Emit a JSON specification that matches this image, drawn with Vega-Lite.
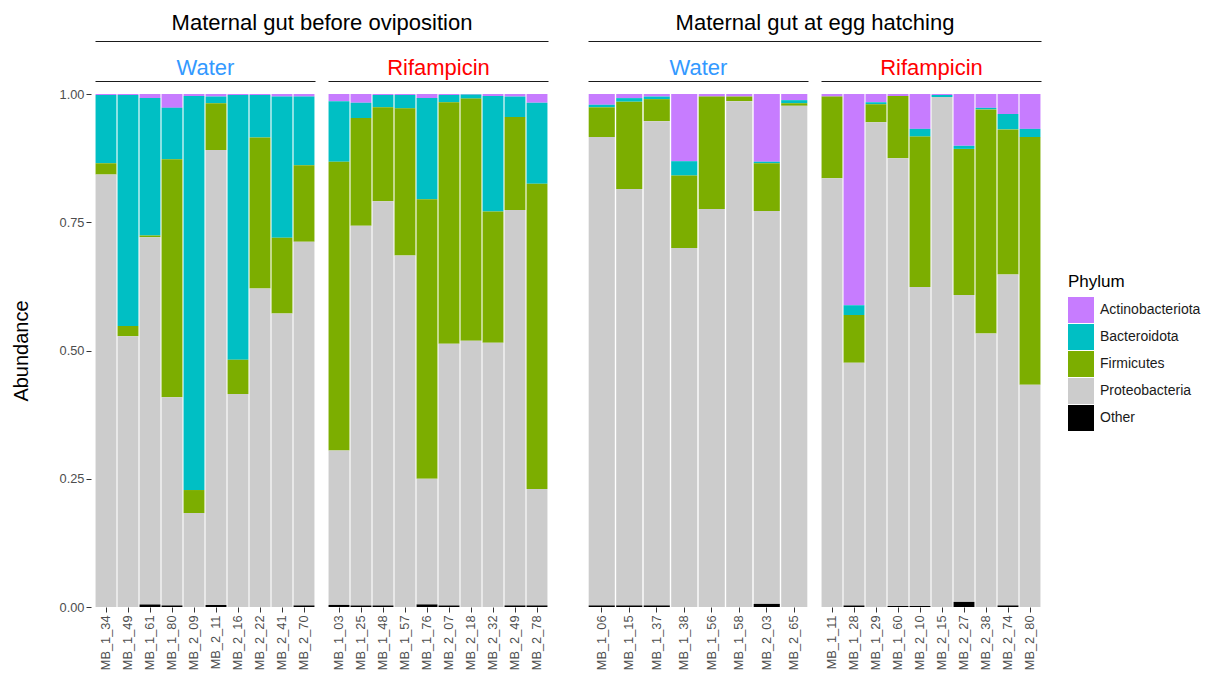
{
  "$schema": "https://vega.github.io/schema/vega-lite/v6.json",
  "background": "white",
  "padding": {"left": 11, "top": 11, "right": 0, "bottom": 0},
  "datasets": {
    "phyla": [
      {"Phylum": "Other", "rank": 1},
      {"Phylum": "Proteobacteria", "rank": 2},
      {"Phylum": "Firmicutes", "rank": 3},
      {"Phylum": "Bacteroidota", "rank": 4},
      {"Phylum": "Actinobacteriota", "rank": 5}
    ],
    "abund": [
      {"Sample": "MB_1_34", "Gut": "Before", "Treatment": "Water", "Phylum": "Actinobacteriota", "Abundance": 0.002},
      {"Sample": "MB_1_34", "Gut": "Before", "Treatment": "Water", "Phylum": "Bacteroidota", "Abundance": 0.133},
      {"Sample": "MB_1_34", "Gut": "Before", "Treatment": "Water", "Phylum": "Firmicutes", "Abundance": 0.022},
      {"Sample": "MB_1_34", "Gut": "Before", "Treatment": "Water", "Phylum": "Proteobacteria", "Abundance": 0.843},
      {"Sample": "MB_1_49", "Gut": "Before", "Treatment": "Water", "Phylum": "Actinobacteriota", "Abundance": 0.002},
      {"Sample": "MB_1_49", "Gut": "Before", "Treatment": "Water", "Phylum": "Bacteroidota", "Abundance": 0.450},
      {"Sample": "MB_1_49", "Gut": "Before", "Treatment": "Water", "Phylum": "Firmicutes", "Abundance": 0.020},
      {"Sample": "MB_1_49", "Gut": "Before", "Treatment": "Water", "Phylum": "Proteobacteria", "Abundance": 0.528},
      {"Sample": "MB_1_61", "Gut": "Before", "Treatment": "Water", "Phylum": "Actinobacteriota", "Abundance": 0.008},
      {"Sample": "MB_1_61", "Gut": "Before", "Treatment": "Water", "Phylum": "Bacteroidota", "Abundance": 0.268},
      {"Sample": "MB_1_61", "Gut": "Before", "Treatment": "Water", "Phylum": "Firmicutes", "Abundance": 0.003},
      {"Sample": "MB_1_61", "Gut": "Before", "Treatment": "Water", "Phylum": "Proteobacteria", "Abundance": 0.716},
      {"Sample": "MB_1_61", "Gut": "Before", "Treatment": "Water", "Phylum": "Other", "Abundance": 0.005},
      {"Sample": "MB_1_80", "Gut": "Before", "Treatment": "Water", "Phylum": "Actinobacteriota", "Abundance": 0.027},
      {"Sample": "MB_1_80", "Gut": "Before", "Treatment": "Water", "Phylum": "Bacteroidota", "Abundance": 0.100},
      {"Sample": "MB_1_80", "Gut": "Before", "Treatment": "Water", "Phylum": "Firmicutes", "Abundance": 0.464},
      {"Sample": "MB_1_80", "Gut": "Before", "Treatment": "Water", "Phylum": "Proteobacteria", "Abundance": 0.406},
      {"Sample": "MB_1_80", "Gut": "Before", "Treatment": "Water", "Phylum": "Other", "Abundance": 0.003},
      {"Sample": "MB_2_09", "Gut": "Before", "Treatment": "Water", "Phylum": "Actinobacteriota", "Abundance": 0.004},
      {"Sample": "MB_2_09", "Gut": "Before", "Treatment": "Water", "Phylum": "Bacteroidota", "Abundance": 0.768},
      {"Sample": "MB_2_09", "Gut": "Before", "Treatment": "Water", "Phylum": "Firmicutes", "Abundance": 0.045},
      {"Sample": "MB_2_09", "Gut": "Before", "Treatment": "Water", "Phylum": "Proteobacteria", "Abundance": 0.183},
      {"Sample": "MB_2_11", "Gut": "Before", "Treatment": "Water", "Phylum": "Actinobacteriota", "Abundance": 0.005},
      {"Sample": "MB_2_11", "Gut": "Before", "Treatment": "Water", "Phylum": "Bacteroidota", "Abundance": 0.013},
      {"Sample": "MB_2_11", "Gut": "Before", "Treatment": "Water", "Phylum": "Firmicutes", "Abundance": 0.091},
      {"Sample": "MB_2_11", "Gut": "Before", "Treatment": "Water", "Phylum": "Proteobacteria", "Abundance": 0.887},
      {"Sample": "MB_2_11", "Gut": "Before", "Treatment": "Water", "Phylum": "Other", "Abundance": 0.004},
      {"Sample": "MB_2_16", "Gut": "Before", "Treatment": "Water", "Phylum": "Actinobacteriota", "Abundance": 0.002},
      {"Sample": "MB_2_16", "Gut": "Before", "Treatment": "Water", "Phylum": "Bacteroidota", "Abundance": 0.516},
      {"Sample": "MB_2_16", "Gut": "Before", "Treatment": "Water", "Phylum": "Firmicutes", "Abundance": 0.067},
      {"Sample": "MB_2_16", "Gut": "Before", "Treatment": "Water", "Phylum": "Proteobacteria", "Abundance": 0.415},
      {"Sample": "MB_2_22", "Gut": "Before", "Treatment": "Water", "Phylum": "Actinobacteriota", "Abundance": 0.002},
      {"Sample": "MB_2_22", "Gut": "Before", "Treatment": "Water", "Phylum": "Bacteroidota", "Abundance": 0.083},
      {"Sample": "MB_2_22", "Gut": "Before", "Treatment": "Water", "Phylum": "Firmicutes", "Abundance": 0.294},
      {"Sample": "MB_2_22", "Gut": "Before", "Treatment": "Water", "Phylum": "Proteobacteria", "Abundance": 0.621},
      {"Sample": "MB_2_41", "Gut": "Before", "Treatment": "Water", "Phylum": "Actinobacteriota", "Abundance": 0.005},
      {"Sample": "MB_2_41", "Gut": "Before", "Treatment": "Water", "Phylum": "Bacteroidota", "Abundance": 0.275},
      {"Sample": "MB_2_41", "Gut": "Before", "Treatment": "Water", "Phylum": "Firmicutes", "Abundance": 0.148},
      {"Sample": "MB_2_41", "Gut": "Before", "Treatment": "Water", "Phylum": "Proteobacteria", "Abundance": 0.572},
      {"Sample": "MB_2_70", "Gut": "Before", "Treatment": "Water", "Phylum": "Actinobacteriota", "Abundance": 0.005},
      {"Sample": "MB_2_70", "Gut": "Before", "Treatment": "Water", "Phylum": "Bacteroidota", "Abundance": 0.134},
      {"Sample": "MB_2_70", "Gut": "Before", "Treatment": "Water", "Phylum": "Firmicutes", "Abundance": 0.149},
      {"Sample": "MB_2_70", "Gut": "Before", "Treatment": "Water", "Phylum": "Proteobacteria", "Abundance": 0.709},
      {"Sample": "MB_2_70", "Gut": "Before", "Treatment": "Water", "Phylum": "Other", "Abundance": 0.003},

      {"Sample": "MB_1_03", "Gut": "Before", "Treatment": "Rifampicin", "Phylum": "Actinobacteriota", "Abundance": 0.014},
      {"Sample": "MB_1_03", "Gut": "Before", "Treatment": "Rifampicin", "Phylum": "Bacteroidota", "Abundance": 0.118},
      {"Sample": "MB_1_03", "Gut": "Before", "Treatment": "Rifampicin", "Phylum": "Firmicutes", "Abundance": 0.563},
      {"Sample": "MB_1_03", "Gut": "Before", "Treatment": "Rifampicin", "Phylum": "Proteobacteria", "Abundance": 0.301},
      {"Sample": "MB_1_03", "Gut": "Before", "Treatment": "Rifampicin", "Phylum": "Other", "Abundance": 0.004},
      {"Sample": "MB_1_25", "Gut": "Before", "Treatment": "Rifampicin", "Phylum": "Actinobacteriota", "Abundance": 0.017},
      {"Sample": "MB_1_25", "Gut": "Before", "Treatment": "Rifampicin", "Phylum": "Bacteroidota", "Abundance": 0.030},
      {"Sample": "MB_1_25", "Gut": "Before", "Treatment": "Rifampicin", "Phylum": "Firmicutes", "Abundance": 0.210},
      {"Sample": "MB_1_25", "Gut": "Before", "Treatment": "Rifampicin", "Phylum": "Proteobacteria", "Abundance": 0.740},
      {"Sample": "MB_1_25", "Gut": "Before", "Treatment": "Rifampicin", "Phylum": "Other", "Abundance": 0.003},
      {"Sample": "MB_1_48", "Gut": "Before", "Treatment": "Rifampicin", "Phylum": "Actinobacteriota", "Abundance": 0.002},
      {"Sample": "MB_1_48", "Gut": "Before", "Treatment": "Rifampicin", "Phylum": "Bacteroidota", "Abundance": 0.024},
      {"Sample": "MB_1_48", "Gut": "Before", "Treatment": "Rifampicin", "Phylum": "Firmicutes", "Abundance": 0.183},
      {"Sample": "MB_1_48", "Gut": "Before", "Treatment": "Rifampicin", "Phylum": "Proteobacteria", "Abundance": 0.788},
      {"Sample": "MB_1_48", "Gut": "Before", "Treatment": "Rifampicin", "Phylum": "Other", "Abundance": 0.003},
      {"Sample": "MB_1_57", "Gut": "Before", "Treatment": "Rifampicin", "Phylum": "Actinobacteriota", "Abundance": 0.002},
      {"Sample": "MB_1_57", "Gut": "Before", "Treatment": "Rifampicin", "Phylum": "Bacteroidota", "Abundance": 0.026},
      {"Sample": "MB_1_57", "Gut": "Before", "Treatment": "Rifampicin", "Phylum": "Firmicutes", "Abundance": 0.287},
      {"Sample": "MB_1_57", "Gut": "Before", "Treatment": "Rifampicin", "Phylum": "Proteobacteria", "Abundance": 0.685},
      {"Sample": "MB_1_76", "Gut": "Before", "Treatment": "Rifampicin", "Phylum": "Actinobacteriota", "Abundance": 0.008},
      {"Sample": "MB_1_76", "Gut": "Before", "Treatment": "Rifampicin", "Phylum": "Bacteroidota", "Abundance": 0.197},
      {"Sample": "MB_1_76", "Gut": "Before", "Treatment": "Rifampicin", "Phylum": "Firmicutes", "Abundance": 0.545},
      {"Sample": "MB_1_76", "Gut": "Before", "Treatment": "Rifampicin", "Phylum": "Proteobacteria", "Abundance": 0.245},
      {"Sample": "MB_1_76", "Gut": "Before", "Treatment": "Rifampicin", "Phylum": "Other", "Abundance": 0.005},
      {"Sample": "MB_2_07", "Gut": "Before", "Treatment": "Rifampicin", "Phylum": "Actinobacteriota", "Abundance": 0.002},
      {"Sample": "MB_2_07", "Gut": "Before", "Treatment": "Rifampicin", "Phylum": "Bacteroidota", "Abundance": 0.014},
      {"Sample": "MB_2_07", "Gut": "Before", "Treatment": "Rifampicin", "Phylum": "Firmicutes", "Abundance": 0.471},
      {"Sample": "MB_2_07", "Gut": "Before", "Treatment": "Rifampicin", "Phylum": "Proteobacteria", "Abundance": 0.510},
      {"Sample": "MB_2_07", "Gut": "Before", "Treatment": "Rifampicin", "Phylum": "Other", "Abundance": 0.003},
      {"Sample": "MB_2_18", "Gut": "Before", "Treatment": "Rifampicin", "Phylum": "Actinobacteriota", "Abundance": 0.001},
      {"Sample": "MB_2_18", "Gut": "Before", "Treatment": "Rifampicin", "Phylum": "Bacteroidota", "Abundance": 0.008},
      {"Sample": "MB_2_18", "Gut": "Before", "Treatment": "Rifampicin", "Phylum": "Firmicutes", "Abundance": 0.472},
      {"Sample": "MB_2_18", "Gut": "Before", "Treatment": "Rifampicin", "Phylum": "Proteobacteria", "Abundance": 0.519},
      {"Sample": "MB_2_32", "Gut": "Before", "Treatment": "Rifampicin", "Phylum": "Actinobacteriota", "Abundance": 0.004},
      {"Sample": "MB_2_32", "Gut": "Before", "Treatment": "Rifampicin", "Phylum": "Bacteroidota", "Abundance": 0.225},
      {"Sample": "MB_2_32", "Gut": "Before", "Treatment": "Rifampicin", "Phylum": "Firmicutes", "Abundance": 0.256},
      {"Sample": "MB_2_32", "Gut": "Before", "Treatment": "Rifampicin", "Phylum": "Proteobacteria", "Abundance": 0.515},
      {"Sample": "MB_2_49", "Gut": "Before", "Treatment": "Rifampicin", "Phylum": "Actinobacteriota", "Abundance": 0.005},
      {"Sample": "MB_2_49", "Gut": "Before", "Treatment": "Rifampicin", "Phylum": "Bacteroidota", "Abundance": 0.040},
      {"Sample": "MB_2_49", "Gut": "Before", "Treatment": "Rifampicin", "Phylum": "Firmicutes", "Abundance": 0.181},
      {"Sample": "MB_2_49", "Gut": "Before", "Treatment": "Rifampicin", "Phylum": "Proteobacteria", "Abundance": 0.771},
      {"Sample": "MB_2_49", "Gut": "Before", "Treatment": "Rifampicin", "Phylum": "Other", "Abundance": 0.003},
      {"Sample": "MB_2_78", "Gut": "Before", "Treatment": "Rifampicin", "Phylum": "Actinobacteriota", "Abundance": 0.017},
      {"Sample": "MB_2_78", "Gut": "Before", "Treatment": "Rifampicin", "Phylum": "Bacteroidota", "Abundance": 0.158},
      {"Sample": "MB_2_78", "Gut": "Before", "Treatment": "Rifampicin", "Phylum": "Firmicutes", "Abundance": 0.595},
      {"Sample": "MB_2_78", "Gut": "Before", "Treatment": "Rifampicin", "Phylum": "Proteobacteria", "Abundance": 0.227},
      {"Sample": "MB_2_78", "Gut": "Before", "Treatment": "Rifampicin", "Phylum": "Other", "Abundance": 0.003},

      {"Sample": "MB_1_06", "Gut": "Hatching", "Treatment": "Water", "Phylum": "Actinobacteriota", "Abundance": 0.021},
      {"Sample": "MB_1_06", "Gut": "Hatching", "Treatment": "Water", "Phylum": "Bacteroidota", "Abundance": 0.005},
      {"Sample": "MB_1_06", "Gut": "Hatching", "Treatment": "Water", "Phylum": "Firmicutes", "Abundance": 0.058},
      {"Sample": "MB_1_06", "Gut": "Hatching", "Treatment": "Water", "Phylum": "Proteobacteria", "Abundance": 0.913},
      {"Sample": "MB_1_06", "Gut": "Hatching", "Treatment": "Water", "Phylum": "Other", "Abundance": 0.003},
      {"Sample": "MB_1_15", "Gut": "Hatching", "Treatment": "Water", "Phylum": "Actinobacteriota", "Abundance": 0.008},
      {"Sample": "MB_1_15", "Gut": "Hatching", "Treatment": "Water", "Phylum": "Bacteroidota", "Abundance": 0.007},
      {"Sample": "MB_1_15", "Gut": "Hatching", "Treatment": "Water", "Phylum": "Firmicutes", "Abundance": 0.170},
      {"Sample": "MB_1_15", "Gut": "Hatching", "Treatment": "Water", "Phylum": "Proteobacteria", "Abundance": 0.812},
      {"Sample": "MB_1_15", "Gut": "Hatching", "Treatment": "Water", "Phylum": "Other", "Abundance": 0.003},
      {"Sample": "MB_1_37", "Gut": "Hatching", "Treatment": "Water", "Phylum": "Actinobacteriota", "Abundance": 0.005},
      {"Sample": "MB_1_37", "Gut": "Hatching", "Treatment": "Water", "Phylum": "Bacteroidota", "Abundance": 0.005},
      {"Sample": "MB_1_37", "Gut": "Hatching", "Treatment": "Water", "Phylum": "Firmicutes", "Abundance": 0.043},
      {"Sample": "MB_1_37", "Gut": "Hatching", "Treatment": "Water", "Phylum": "Proteobacteria", "Abundance": 0.944},
      {"Sample": "MB_1_37", "Gut": "Hatching", "Treatment": "Water", "Phylum": "Other", "Abundance": 0.003},
      {"Sample": "MB_1_38", "Gut": "Hatching", "Treatment": "Water", "Phylum": "Actinobacteriota", "Abundance": 0.131},
      {"Sample": "MB_1_38", "Gut": "Hatching", "Treatment": "Water", "Phylum": "Bacteroidota", "Abundance": 0.028},
      {"Sample": "MB_1_38", "Gut": "Hatching", "Treatment": "Water", "Phylum": "Firmicutes", "Abundance": 0.141},
      {"Sample": "MB_1_38", "Gut": "Hatching", "Treatment": "Water", "Phylum": "Proteobacteria", "Abundance": 0.700},
      {"Sample": "MB_1_56", "Gut": "Hatching", "Treatment": "Water", "Phylum": "Actinobacteriota", "Abundance": 0.005},
      {"Sample": "MB_1_56", "Gut": "Hatching", "Treatment": "Water", "Phylum": "Firmicutes", "Abundance": 0.219},
      {"Sample": "MB_1_56", "Gut": "Hatching", "Treatment": "Water", "Phylum": "Proteobacteria", "Abundance": 0.776},
      {"Sample": "MB_1_58", "Gut": "Hatching", "Treatment": "Water", "Phylum": "Actinobacteriota", "Abundance": 0.005},
      {"Sample": "MB_1_58", "Gut": "Hatching", "Treatment": "Water", "Phylum": "Firmicutes", "Abundance": 0.009},
      {"Sample": "MB_1_58", "Gut": "Hatching", "Treatment": "Water", "Phylum": "Proteobacteria", "Abundance": 0.986},
      {"Sample": "MB_2_03", "Gut": "Hatching", "Treatment": "Water", "Phylum": "Actinobacteriota", "Abundance": 0.132},
      {"Sample": "MB_2_03", "Gut": "Hatching", "Treatment": "Water", "Phylum": "Bacteroidota", "Abundance": 0.003},
      {"Sample": "MB_2_03", "Gut": "Hatching", "Treatment": "Water", "Phylum": "Firmicutes", "Abundance": 0.093},
      {"Sample": "MB_2_03", "Gut": "Hatching", "Treatment": "Water", "Phylum": "Proteobacteria", "Abundance": 0.766},
      {"Sample": "MB_2_03", "Gut": "Hatching", "Treatment": "Water", "Phylum": "Other", "Abundance": 0.006},
      {"Sample": "MB_2_65", "Gut": "Hatching", "Treatment": "Water", "Phylum": "Actinobacteriota", "Abundance": 0.012},
      {"Sample": "MB_2_65", "Gut": "Hatching", "Treatment": "Water", "Phylum": "Bacteroidota", "Abundance": 0.006},
      {"Sample": "MB_2_65", "Gut": "Hatching", "Treatment": "Water", "Phylum": "Firmicutes", "Abundance": 0.005},
      {"Sample": "MB_2_65", "Gut": "Hatching", "Treatment": "Water", "Phylum": "Proteobacteria", "Abundance": 0.977},

      {"Sample": "MB_1_11", "Gut": "Hatching", "Treatment": "Rifampicin", "Phylum": "Actinobacteriota", "Abundance": 0.005},
      {"Sample": "MB_1_11", "Gut": "Hatching", "Treatment": "Rifampicin", "Phylum": "Firmicutes", "Abundance": 0.159},
      {"Sample": "MB_1_11", "Gut": "Hatching", "Treatment": "Rifampicin", "Phylum": "Proteobacteria", "Abundance": 0.836},
      {"Sample": "MB_1_28", "Gut": "Hatching", "Treatment": "Rifampicin", "Phylum": "Actinobacteriota", "Abundance": 0.412},
      {"Sample": "MB_1_28", "Gut": "Hatching", "Treatment": "Rifampicin", "Phylum": "Bacteroidota", "Abundance": 0.019},
      {"Sample": "MB_1_28", "Gut": "Hatching", "Treatment": "Rifampicin", "Phylum": "Firmicutes", "Abundance": 0.093},
      {"Sample": "MB_1_28", "Gut": "Hatching", "Treatment": "Rifampicin", "Phylum": "Proteobacteria", "Abundance": 0.473},
      {"Sample": "MB_1_28", "Gut": "Hatching", "Treatment": "Rifampicin", "Phylum": "Other", "Abundance": 0.003},
      {"Sample": "MB_1_29", "Gut": "Hatching", "Treatment": "Rifampicin", "Phylum": "Actinobacteriota", "Abundance": 0.016},
      {"Sample": "MB_1_29", "Gut": "Hatching", "Treatment": "Rifampicin", "Phylum": "Bacteroidota", "Abundance": 0.004},
      {"Sample": "MB_1_29", "Gut": "Hatching", "Treatment": "Rifampicin", "Phylum": "Firmicutes", "Abundance": 0.035},
      {"Sample": "MB_1_29", "Gut": "Hatching", "Treatment": "Rifampicin", "Phylum": "Proteobacteria", "Abundance": 0.945},
      {"Sample": "MB_1_60", "Gut": "Hatching", "Treatment": "Rifampicin", "Phylum": "Actinobacteriota", "Abundance": 0.004},
      {"Sample": "MB_1_60", "Gut": "Hatching", "Treatment": "Rifampicin", "Phylum": "Firmicutes", "Abundance": 0.121},
      {"Sample": "MB_1_60", "Gut": "Hatching", "Treatment": "Rifampicin", "Phylum": "Proteobacteria", "Abundance": 0.873},
      {"Sample": "MB_1_60", "Gut": "Hatching", "Treatment": "Rifampicin", "Phylum": "Other", "Abundance": 0.002},
      {"Sample": "MB_2_10", "Gut": "Hatching", "Treatment": "Rifampicin", "Phylum": "Actinobacteriota", "Abundance": 0.068},
      {"Sample": "MB_2_10", "Gut": "Hatching", "Treatment": "Rifampicin", "Phylum": "Bacteroidota", "Abundance": 0.015},
      {"Sample": "MB_2_10", "Gut": "Hatching", "Treatment": "Rifampicin", "Phylum": "Firmicutes", "Abundance": 0.293},
      {"Sample": "MB_2_10", "Gut": "Hatching", "Treatment": "Rifampicin", "Phylum": "Proteobacteria", "Abundance": 0.622},
      {"Sample": "MB_2_10", "Gut": "Hatching", "Treatment": "Rifampicin", "Phylum": "Other", "Abundance": 0.002},
      {"Sample": "MB_2_15", "Gut": "Hatching", "Treatment": "Rifampicin", "Phylum": "Actinobacteriota", "Abundance": 0.002},
      {"Sample": "MB_2_15", "Gut": "Hatching", "Treatment": "Rifampicin", "Phylum": "Bacteroidota", "Abundance": 0.004},
      {"Sample": "MB_2_15", "Gut": "Hatching", "Treatment": "Rifampicin", "Phylum": "Proteobacteria", "Abundance": 0.994},
      {"Sample": "MB_2_27", "Gut": "Hatching", "Treatment": "Rifampicin", "Phylum": "Actinobacteriota", "Abundance": 0.101},
      {"Sample": "MB_2_27", "Gut": "Hatching", "Treatment": "Rifampicin", "Phylum": "Bacteroidota", "Abundance": 0.006},
      {"Sample": "MB_2_27", "Gut": "Hatching", "Treatment": "Rifampicin", "Phylum": "Firmicutes", "Abundance": 0.285},
      {"Sample": "MB_2_27", "Gut": "Hatching", "Treatment": "Rifampicin", "Phylum": "Proteobacteria", "Abundance": 0.598},
      {"Sample": "MB_2_27", "Gut": "Hatching", "Treatment": "Rifampicin", "Phylum": "Other", "Abundance": 0.010},
      {"Sample": "MB_2_38", "Gut": "Hatching", "Treatment": "Rifampicin", "Phylum": "Actinobacteriota", "Abundance": 0.027},
      {"Sample": "MB_2_38", "Gut": "Hatching", "Treatment": "Rifampicin", "Phylum": "Bacteroidota", "Abundance": 0.003},
      {"Sample": "MB_2_38", "Gut": "Hatching", "Treatment": "Rifampicin", "Phylum": "Firmicutes", "Abundance": 0.437},
      {"Sample": "MB_2_38", "Gut": "Hatching", "Treatment": "Rifampicin", "Phylum": "Proteobacteria", "Abundance": 0.533},
      {"Sample": "MB_2_74", "Gut": "Hatching", "Treatment": "Rifampicin", "Phylum": "Actinobacteriota", "Abundance": 0.039},
      {"Sample": "MB_2_74", "Gut": "Hatching", "Treatment": "Rifampicin", "Phylum": "Bacteroidota", "Abundance": 0.030},
      {"Sample": "MB_2_74", "Gut": "Hatching", "Treatment": "Rifampicin", "Phylum": "Firmicutes", "Abundance": 0.283},
      {"Sample": "MB_2_74", "Gut": "Hatching", "Treatment": "Rifampicin", "Phylum": "Proteobacteria", "Abundance": 0.645},
      {"Sample": "MB_2_74", "Gut": "Hatching", "Treatment": "Rifampicin", "Phylum": "Other", "Abundance": 0.003},
      {"Sample": "MB_2_80", "Gut": "Hatching", "Treatment": "Rifampicin", "Phylum": "Actinobacteriota", "Abundance": 0.068},
      {"Sample": "MB_2_80", "Gut": "Hatching", "Treatment": "Rifampicin", "Phylum": "Bacteroidota", "Abundance": 0.016},
      {"Sample": "MB_2_80", "Gut": "Hatching", "Treatment": "Rifampicin", "Phylum": "Firmicutes", "Abundance": 0.483},
      {"Sample": "MB_2_80", "Gut": "Hatching", "Treatment": "Rifampicin", "Phylum": "Proteobacteria", "Abundance": 0.433}
    ]
  },
  "data": {"name": "abund"},
  "spacing": 13,
  "bounds": "flush",
  "hconcat": [
    {
      "width": 220, "height": 513,
      "transform": [
        {"filter": "datum.Gut === 'Before' && datum.Treatment === 'Water'"},
        {"lookup": "Phylum", "from": {"data": {"name": "phyla"}, "key": "Phylum", "fields": ["rank"]}}
      ],
      "layer": [
        {
          "mark": {"type": "bar", "clip": true},
          "encoding": {
            "x": {"field": "Sample", "type": "nominal", "sort": "ascending", "scale": {"paddingInner": 0.05, "paddingOuter": 0.025},
                  "axis": {"title": null, "labelAngle": -90, "labelFontSize": 12.8, "labelColor": "#4d4d4d", "tickColor": "#333333", "tickSize": 5, "labelPadding": 3, "domain": false}},
            "y": {"field": "Abundance", "type": "quantitative", "stack": "zero", "scale": {"domain": [0, 1], "nice": false},
                  "axis": {"title": "Abundance", "titleFontSize": 20, "titleFontWeight": "normal", "titleColor": "#000000", "titlePadding": 28, "values": [0, 0.25, 0.5, 0.75, 1], "format": ".2f", "labelFontSize": 12.8, "labelColor": "#4d4d4d", "tickColor": "#333333", "tickSize": 5, "labelPadding": 2, "offset": 4, "domain": false, "grid": false}},
            "color": {"field": "Phylum", "type": "nominal",
                      "scale": {"domain": ["Actinobacteriota", "Bacteroidota", "Firmicutes", "Proteobacteria", "Other"], "range": ["#C77CFF", "#00BFC4", "#7CAE00", "#CCCCCC", "#000000"]},
                      "legend": {"title": "Phylum", "orient": "none", "legendX": 973, "legendY": 180}},
            "order": {"field": "rank", "type": "quantitative", "sort": "ascending"}
          }
        },
        {
          "mark": {"type": "rule", "opacity": 0},
          "encoding": {"x": {"field": "Sample", "type": "nominal", "sort": "ascending",
            "axis": {"orient": "top", "offset": 13, "labels": false, "ticks": false, "domain": true, "domainColor": "#1a1a1a", "domainWidth": 1.2, "title": "Water", "titleColor": "#3399FF", "titleFontSize": 22, "titleFontWeight": "normal", "titlePadding": 2}}}
        },
        {
          "mark": {"type": "rule", "opacity": 0},
          "encoding": {"x": {"field": "Sample", "type": "nominal", "sort": "ascending", "scale": {"range": [0, 453]},
            "axis": {"orient": "top", "offset": 53, "labels": false, "ticks": false, "domain": true, "domainColor": "#1a1a1a", "domainWidth": 1.2, "title": "Maternal gut before oviposition", "titleColor": "#000000", "titleFontSize": 22, "titleFontWeight": "normal", "titlePadding": 7}}}
        }
      ],
      "resolve": {"scale": {"x": "independent"}, "axis": {"x": "independent"}}
    },
    {
      "width": 220, "height": 513,
      "transform": [
        {"filter": "datum.Gut === 'Before' && datum.Treatment === 'Rifampicin'"},
        {"lookup": "Phylum", "from": {"data": {"name": "phyla"}, "key": "Phylum", "fields": ["rank"]}}
      ],
      "layer": [
        {
          "mark": {"type": "bar", "clip": true},
          "encoding": {
            "x": {"field": "Sample", "type": "nominal", "sort": "ascending", "scale": {"paddingInner": 0.05, "paddingOuter": 0.025},
                  "axis": {"title": null, "labelAngle": -90, "labelFontSize": 12.8, "labelColor": "#4d4d4d", "tickColor": "#333333", "tickSize": 5, "labelPadding": 3, "domain": false}},
            "y": {"field": "Abundance", "type": "quantitative", "stack": "zero", "scale": {"domain": [0, 1], "nice": false}, "axis": null},
            "color": {"field": "Phylum", "type": "nominal",
                      "scale": {"domain": ["Actinobacteriota", "Bacteroidota", "Firmicutes", "Proteobacteria", "Other"], "range": ["#C77CFF", "#00BFC4", "#7CAE00", "#CCCCCC", "#000000"]},
                      "legend": {"title": "Phylum", "orient": "none", "legendX": 973, "legendY": 180}},
            "order": {"field": "rank", "type": "quantitative", "sort": "ascending"}
          }
        },
        {
          "mark": {"type": "rule", "opacity": 0},
          "encoding": {"x": {"field": "Sample", "type": "nominal", "sort": "ascending",
            "axis": {"orient": "top", "offset": 13, "labels": false, "ticks": false, "domain": true, "domainColor": "#1a1a1a", "domainWidth": 1.2, "title": "Rifampicin", "titleColor": "#FF0000", "titleFontSize": 22, "titleFontWeight": "normal", "titlePadding": 2}}}
        }
      ],
      "resolve": {"scale": {"x": "independent"}, "axis": {"x": "independent"}}
    },
    {
      "width": 14, "height": 513,
      "transform": [{"filter": "datum.Gut === 'None'"}],
      "mark": {"type": "point", "opacity": 0},
      "encoding": {}
    },
    {
      "width": 220, "height": 513,
      "transform": [
        {"filter": "datum.Gut === 'Hatching' && datum.Treatment === 'Water'"},
        {"lookup": "Phylum", "from": {"data": {"name": "phyla"}, "key": "Phylum", "fields": ["rank"]}}
      ],
      "layer": [
        {
          "mark": {"type": "bar", "clip": true},
          "encoding": {
            "x": {"field": "Sample", "type": "nominal", "sort": "ascending", "scale": {"paddingInner": 0.05, "paddingOuter": 0.025},
                  "axis": {"title": null, "labelAngle": -90, "labelFontSize": 12.8, "labelColor": "#4d4d4d", "tickColor": "#333333", "tickSize": 5, "labelPadding": 3, "domain": false}},
            "y": {"field": "Abundance", "type": "quantitative", "stack": "zero", "scale": {"domain": [0, 1], "nice": false}, "axis": null},
            "color": {"field": "Phylum", "type": "nominal",
                      "scale": {"domain": ["Actinobacteriota", "Bacteroidota", "Firmicutes", "Proteobacteria", "Other"], "range": ["#C77CFF", "#00BFC4", "#7CAE00", "#CCCCCC", "#000000"]},
                      "legend": {"title": "Phylum", "orient": "none", "legendX": 973, "legendY": 180}},
            "order": {"field": "rank", "type": "quantitative", "sort": "ascending"}
          }
        },
        {
          "mark": {"type": "rule", "opacity": 0},
          "encoding": {"x": {"field": "Sample", "type": "nominal", "sort": "ascending",
            "axis": {"orient": "top", "offset": 13, "labels": false, "ticks": false, "domain": true, "domainColor": "#1a1a1a", "domainWidth": 1.2, "title": "Water", "titleColor": "#3399FF", "titleFontSize": 22, "titleFontWeight": "normal", "titlePadding": 2}}}
        },
        {
          "mark": {"type": "rule", "opacity": 0},
          "encoding": {"x": {"field": "Sample", "type": "nominal", "sort": "ascending", "scale": {"range": [0, 453]},
            "axis": {"orient": "top", "offset": 53, "labels": false, "ticks": false, "domain": true, "domainColor": "#1a1a1a", "domainWidth": 1.2, "title": "Maternal gut at egg hatching", "titleColor": "#000000", "titleFontSize": 22, "titleFontWeight": "normal", "titlePadding": 7}}}
        }
      ],
      "resolve": {"scale": {"x": "independent"}, "axis": {"x": "independent"}}
    },
    {
      "width": 220, "height": 513,
      "transform": [
        {"filter": "datum.Gut === 'Hatching' && datum.Treatment === 'Rifampicin'"},
        {"lookup": "Phylum", "from": {"data": {"name": "phyla"}, "key": "Phylum", "fields": ["rank"]}}
      ],
      "layer": [
        {
          "mark": {"type": "bar", "clip": true},
          "encoding": {
            "x": {"field": "Sample", "type": "nominal", "sort": "ascending", "scale": {"paddingInner": 0.05, "paddingOuter": 0.025},
                  "axis": {"title": null, "labelAngle": -90, "labelFontSize": 12.8, "labelColor": "#4d4d4d", "tickColor": "#333333", "tickSize": 5, "labelPadding": 3, "domain": false}},
            "y": {"field": "Abundance", "type": "quantitative", "stack": "zero", "scale": {"domain": [0, 1], "nice": false}, "axis": null},
            "color": {"field": "Phylum", "type": "nominal",
                      "scale": {"domain": ["Actinobacteriota", "Bacteroidota", "Firmicutes", "Proteobacteria", "Other"], "range": ["#C77CFF", "#00BFC4", "#7CAE00", "#CCCCCC", "#000000"]},
                      "legend": {"title": "Phylum", "orient": "none", "legendX": 973, "legendY": 180}},
            "order": {"field": "rank", "type": "quantitative", "sort": "ascending"}
          }
        },
        {
          "mark": {"type": "rule", "opacity": 0},
          "encoding": {"x": {"field": "Sample", "type": "nominal", "sort": "ascending",
            "axis": {"orient": "top", "offset": 13, "labels": false, "ticks": false, "domain": true, "domainColor": "#1a1a1a", "domainWidth": 1.2, "title": "Rifampicin", "titleColor": "#FF0000", "titleFontSize": 22, "titleFontWeight": "normal", "titlePadding": 2}}}
        }
      ],
      "resolve": {"scale": {"x": "independent"}, "axis": {"x": "independent"}}
    }
  ],
  "config": {
    "font": "Liberation Sans",
    "view": {"stroke": null},
    "axis": {"grid": false, "domain": false},
    "legend": {
      "titleFontSize": 17, "titleFontWeight": "normal", "titleColor": "#000000", "titlePadding": 6,
      "labelFontSize": 14, "labelColor": "#1a1a1a", "labelOffset": 6,
      "symbolType": "square", "symbolSize": 676, "symbolStrokeWidth": 0, "symbolOpacity": 1, "rowPadding": 1
    }
  }
}
